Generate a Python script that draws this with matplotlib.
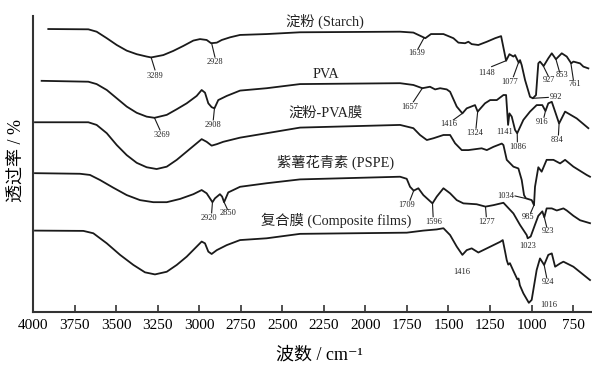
import matplotlib
matplotlib.use("Agg")
import matplotlib.pyplot as plt

plt.rcParams['font.family'] = ['Liberation Serif', 'Noto Sans CJK SC', 'DejaVu Serif']

# ---------------- data (wavenumber cm-1, transmittance, offset curves) ----------------
starch_wn = [3908, 3667, 3617, 3556, 3496, 3436, 3376, 3316, 3289, 3216, 3156, 3095, 3035, 2995,
             2955, 2928, 2894, 2864, 2814, 2754, 2594, 2393, 1791, 1711, 1639, 1605, 1530, 1470,
             1440, 1400, 1380, 1360, 1320, 1269, 1219, 1183, 1153, 1133, 1109, 1099, 1077, 1069,
             1059, 1039, 1009, 992, 973, 965, 959, 949, 927, 899, 878, 853, 818, 788, 761, 748,
             708, 688, 658]
starch_t = [95.6, 95.5, 94.7, 92.5, 90.2, 88.3, 87.1, 86.3, 86.0, 86.8, 88.2, 89.9, 91.7, 92.2,
            91.9, 90.8, 91.0, 91.9, 92.8, 93.6, 93.9, 94.5, 94.7, 94.4, 92.5, 93.9, 93.9, 92.5,
            91.0, 90.8, 91.3, 90.5, 90.2, 91.3, 92.5, 93.2, 84.9, 87.1, 86.3, 86.8, 84.2, 85.1,
            83.4, 78.4, 72.7, 72.2, 73.3, 79.5, 84.0, 84.6, 83.1, 85.7, 87.4, 85.4, 87.4, 86.3,
            84.0, 84.6, 84.0, 82.9, 82.3]

pva_wn = [3948, 3667, 3617, 3556, 3496, 3436, 3376, 3316, 3269, 3195, 3135, 3075, 3015, 2985,
          2965, 2945, 2925, 2908, 2885, 2834, 2754, 2594, 2393, 1791, 1711, 1657, 1611, 1580,
          1550, 1510, 1490, 1450, 1416, 1390, 1340, 1324, 1280, 1249, 1209, 1169, 1153, 1141,
          1133, 1119, 1099, 1086, 1049, 1009, 969, 935, 916, 899, 878, 858, 834, 798, 728, 658]
pva_t = [78.1, 77.8, 77.0, 75.0, 72.2, 69.4, 67.3, 66.0, 65.6, 66.6, 68.5, 70.5, 73.0, 75.0,
         74.1, 70.5, 69.2, 68.8, 71.6, 73.0, 74.8, 75.6, 77.0, 77.3, 76.7, 75.6, 76.1, 75.2,
         75.6, 75.2, 74.4, 69.4, 67.1, 68.8, 69.9, 67.7, 70.5, 71.6, 71.6, 73.3, 73.3, 63.2,
         67.1, 66.0, 61.5, 60.4, 64.9, 67.7, 69.9, 69.9, 67.9, 70.5, 71.0, 67.7, 63.7, 67.7,
         65.4, 62.1]

film_wn = [3988, 3667, 3617, 3556, 3496, 3436, 3376, 3316, 3256, 3195, 3135, 3075, 3015, 2985,
           2955, 2925, 2894, 2855, 2754, 2594, 2393, 1791, 1711, 1671, 1630, 1590, 1530, 1490,
           1460, 1420, 1380, 1340, 1300, 1269, 1229, 1179, 1169, 1149, 1109, 1079, 1059, 1045,
           1034, 999, 985, 979, 959, 939, 909, 868, 828, 798, 748, 668, 648]
film_t = [64.1, 64.1, 63.2, 60.4, 56.4, 53.0, 50.4, 48.9, 48.3, 49.1, 51.4, 54.2, 57.0, 58.4,
          57.5, 56.2, 56.7, 57.5, 58.9, 60.4, 62.3, 63.2, 62.1, 59.8, 58.1, 58.7, 59.8, 59.8,
          57.0, 54.7, 54.7, 55.0, 55.3, 54.7, 55.8, 56.9, 56.4, 51.4, 49.1, 48.5, 44.6, 39.5,
          38.4, 37.8, 36.1, 42.3, 48.9, 47.4, 51.4, 51.4, 50.2, 51.4, 49.1, 46.3, 45.7]

pspe_wn = [3988, 3717, 3657, 3597, 3517, 3436, 3356, 3276, 3195, 3115, 3035, 2985, 2955, 2920,
           2905, 2875, 2862, 2850, 2825, 2754, 2594, 2393, 1791, 1751, 1731, 1709, 1681, 1651,
           1596, 1570, 1530, 1490, 1450, 1410, 1330, 1277, 1229, 1169, 1109, 1069, 1029, 1023,
           1005, 979, 959, 935, 923, 909, 878, 848, 808, 788, 748, 708, 648]
pspe_t = [46.9, 46.7, 46.3, 44.6, 42.0, 39.5, 37.8, 37.1, 37.1, 38.2, 39.8, 41.2, 40.1, 37.1,
          38.4, 39.8, 39.0, 37.1, 40.4, 42.3, 43.5, 44.8, 45.7, 45.0, 42.3, 41.0, 41.8, 39.5,
          36.7, 39.0, 41.8, 40.1, 37.8, 36.7, 36.4, 35.6, 36.1, 36.9, 33.3, 29.4, 26.0, 24.9,
          25.5, 29.5, 32.5, 34.0, 32.0, 35.0, 35.0, 34.3, 35.0, 34.3, 32.5, 31.0, 30.0]

comp_wn = [3988, 3697, 3637, 3556, 3476, 3396, 3326, 3266, 3195, 3135, 3075, 3015, 2985, 2965,
           2945, 2925, 2894, 2834, 2754, 2594, 2393, 1751, 1651, 1570, 1530, 1490, 1450, 1416,
           1390, 1360, 1320, 1269, 1229, 1189, 1173, 1159, 1149, 1140, 1130, 1110, 1085, 1078,
           1070, 1049, 1016, 999, 969, 949, 924, 899, 878, 858, 828, 808, 748, 648]
comp_t = [27.5, 27.4, 26.6, 23.2, 19.3, 15.9, 13.4, 12.7, 13.6, 15.9, 18.7, 22.1, 23.8, 23.2,
          20.4, 19.6, 20.9, 22.6, 24.3, 24.9, 26.4, 26.8, 27.5, 27.9, 28.3, 26.0, 22.1, 19.3,
          20.9, 21.5, 20.1, 21.5, 22.6, 23.7, 24.3, 20.4, 17.5, 16.0, 16.5, 14.0, 11.0, 11.3,
          9.0, 6.3, 3.1, 4.1, 14.2, 18.1, 15.9, 19.3, 19.8, 15.3, 16.4, 17.0, 15.3, 10.8]

series_names = ['淀粉 (Starch)', 'PVA', '淀粉-PVA膜', '紫薯花青素 (PSPE)', '复合膜 (Composite films)']
x_ticks = [4000, 3750, 3500, 3250, 3000, 2750, 2500, 2250, 2000, 1750, 1500, 1250, 1000, 750]

# --------------------------------------------------------------------------------------
fig = plt.figure(figsize=(5.92, 3.67), dpi=100)
ax = fig.add_axes([33 / 592, 55 / 367, 1 - 33 / 592, 296 / 367])

lc = '#1a1a1a'
for wn, t in [(starch_wn, starch_t), (pva_wn, pva_t), (film_wn, film_t),
              (pspe_wn, pspe_t), (comp_wn, comp_t)]:
    ax.plot(wn, t, color=lc, lw=1.3, solid_joinstyle='round')

ax.set_xlim(4000, 636)
ax.set_ylim(0, 100)
ax.set_xticks(x_ticks)
ax.set_xticklabels([str(v) for v in x_ticks], fontsize=11)
ax.set_yticks([])
for s in ['top', 'right']:
    ax.spines[s].set_visible(False)
for s in ['left', 'bottom']:
    ax.spines[s].set_color('#333333')
    ax.spines[s].set_linewidth(1.5)
ax.tick_params(axis='x', direction='in', length=5, width=1.2, color='#333333', pad=5)

# series names
name_pos = [(2243, 98.3), (2237, 80.1), (2243, 67.2), (2182, 50.7), (2176, 31.1)]
for name, (x, y) in zip(series_names, name_pos):
    ax.text(x, y, name, ha='center', va='center', fontsize=10.3, color='#222222')

# peak annotations: text, label position, leader line (from, to)
ann = [
    ('3289', (3266, 79.7), ((3289, 86.0), (3266, 81.8))),
    ('2928', (2905, 84.5), ((2925, 90.8), (2905, 86.1))),
    ('1639', (1691, 87.4), ((1647, 92.6), (1683, 88.9))),
    ('1148', (1270, 80.8), ((1240, 82.9), (1153, 84.9))),
    ('1077', (1129, 77.8), ((1109, 79.5), (1080, 84.0))),
    ('992', (852, 72.7), ((989, 72.2), (899, 72.5))),
    ('927', (894, 78.4), ((929, 83.1), (899, 79.7))),
    ('853', (818, 80.1), ((853, 85.4), (832, 81.2))),
    ('761', (738, 77.0), ((763, 84.0), (748, 78.4))),
    ('3269', (3225, 59.8), ((3269, 65.6), (3236, 61.5))),
    ('2908', (2915, 63.2), ((2908, 68.8), (2915, 64.9))),
    ('1657', (1731, 69.4), ((1657, 75.6), (1711, 71.0))),
    ('1416', (1500, 63.5), ((1416, 67.1), (1470, 64.9))),
    ('1324', (1340, 60.6), ((1324, 67.7), (1334, 62.1))),
    ('1141', (1162, 60.9), None),
    ('1086', (1085, 55.8), ((1086, 60.4), (1085, 57.5))),
    ('916', (939, 64.3), ((916, 67.9), (925, 65.8))),
    ('834', (848, 58.1), ((834, 63.7), (838, 59.8))),
    ('2920', (2939, 31.7), ((2920, 37.1), (2925, 33.5))),
    ('2850', (2825, 33.5), ((2850, 37.1), (2830, 34.7))),
    ('1709', (1751, 36.1), ((1709, 41.0), (1731, 37.8))),
    ('1596', (1590, 30.5), ((1596, 36.7), (1592, 32.2))),
    ('1277', (1269, 30.5), ((1277, 35.6), (1272, 32.2))),
    ('1034', (1153, 39.2), ((1099, 39.2), (1039, 38.4))),
    ('985', (1019, 32.2), ((985, 36.1), (1005, 33.5))),
    ('1023', (1025, 22.3), None),
    ('923', (899, 27.5), ((923, 32.0), (909, 28.8))),
    ('1416', (1420, 13.6), None),
    ('924', (899, 10.2), ((924, 15.9), (909, 11.7))),
    ('1016', (899, 2.4), None),
]
for txt, (lx, ly), line in ann:
    ax.text(lx, ly, txt, ha='center', va='center', fontsize=6, color='#222222')
    if line is not None:
        (x0, y0), (x1, y1) = line
        ax.plot([x0, x1], [y0, y1], color=lc, lw=0.8)

fig.text(319 / 592, 1 - 355 / 367, '波数 / cm\u207b\u00b9', ha='center', va='center',
         fontsize=13)
fig.text(17 / 592, 1 - 160 / 367, '透过率 / %', ha='center', va='center', fontsize=13,
         rotation=90)

fig.savefig('out.png', dpi=100)
